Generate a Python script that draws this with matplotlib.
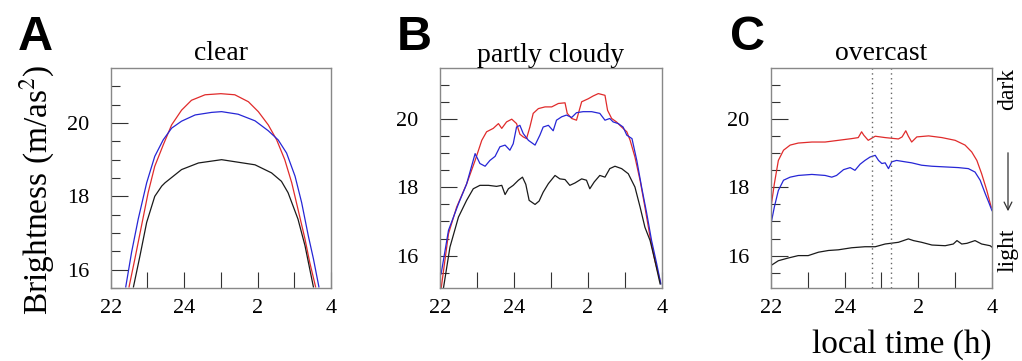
import matplotlib
matplotlib.use('Agg')
import matplotlib.pyplot as plt

# ---- data (hours after 22:00 written as 22..28, brightness in m/as^2) ----
# A: clear
a_red_t = [22.50, 22.66, 22.84, 23.02, 23.20, 23.43, 23.66, 23.93, 24.20, 24.57, 25.00, 25.38,
           25.75, 26.02, 26.29, 26.52, 26.74, 26.93, 27.10, 27.29, 27.42, 27.58]
a_red_v = [15.53, 16.30, 17.20, 18.10, 18.82, 19.40, 19.95, 20.35, 20.62, 20.77, 20.80, 20.77,
           20.58, 20.31, 19.95, 19.54, 19.00, 18.37, 17.65, 16.84, 16.20, 15.53]
a_blue_t = [22.41, 22.57, 22.75, 22.98, 23.20, 23.43, 23.66, 23.93, 24.30, 24.75, 25.02, 25.47,
            25.93, 26.29, 26.56, 26.79, 27.02, 27.20, 27.38, 27.52, 27.67]
a_blue_v = [15.53, 16.48, 17.38, 18.37, 19.09, 19.54, 19.86, 20.05, 20.22, 20.29, 20.31, 20.24,
            20.06, 19.79, 19.54, 19.18, 18.55, 17.83, 16.93, 16.30, 15.53]
a_black_t = [22.62, 22.80, 22.98, 23.20, 23.39, 23.48, 23.93, 24.39, 25.02, 25.93, 26.38, 26.65,
             26.83, 27.10, 27.29, 27.52]
a_black_v = [15.53, 16.39, 17.29, 18.00, 18.28, 18.37, 18.73, 18.91, 19.00, 18.86, 18.64, 18.41,
             18.10, 17.38, 16.66, 15.53]

# B: partly cloudy
b_red_t = [22.03, 22.23, 22.45, 22.72, 22.95, 23.13, 23.26, 23.44, 23.58, 23.67, 23.80, 23.94,
           24.07, 24.16, 24.25, 24.34, 24.43, 24.52, 24.66, 24.84, 25.02, 25.20, 25.38, 25.44,
           25.56, 25.69, 25.83, 26.01, 26.14, 26.28, 26.46, 26.53, 26.64, 26.77, 26.91, 27.05,
           27.14, 27.27, 27.41, 27.54, 27.68, 27.81, 27.95]
b_red_v = [15.02, 16.64, 17.42, 18.10, 18.79, 19.38, 19.63, 19.73, 19.87, 19.73, 19.92, 20.00,
           19.87, 19.56, 19.48, 19.43, 19.77, 20.17, 20.31, 20.36, 20.36, 20.46, 20.48, 20.17,
           20.02, 19.97, 20.51, 20.60, 20.68, 20.75, 20.70, 20.26, 20.02, 19.92, 19.77, 19.63,
           19.38, 18.89, 18.20, 17.42, 16.54, 15.85, 15.26]
b_blue_t = [22.03, 22.23, 22.50, 22.72, 22.95, 23.08, 23.22, 23.35, 23.49, 23.62, 23.76, 23.89,
            23.98, 24.07, 24.16, 24.25, 24.39, 24.57, 24.70, 24.79, 24.93, 25.06, 25.15, 25.29,
            25.42, 25.56, 25.69, 25.87, 26.10, 26.32, 26.46, 26.59, 26.68, 26.82, 26.95, 27.05,
            27.19, 27.32, 27.45, 27.59, 27.72, 27.86, 27.97]
b_blue_v = [15.46, 16.74, 17.52, 18.10, 18.99, 18.70, 18.62, 18.79, 18.91, 19.19, 19.24, 19.09,
            19.28, 19.77, 19.82, 19.58, 19.38, 19.24, 19.53, 19.77, 19.82, 19.66, 19.97, 20.07,
            20.12, 20.05, 20.19, 20.22, 20.22, 20.17, 19.97, 20.02, 19.92, 19.87, 19.77, 19.53,
            19.43, 18.79, 18.01, 17.23, 16.44, 15.75, 15.17]
b_black_t = [22.09, 22.27, 22.50, 22.72, 22.90, 23.08, 23.31, 23.53, 23.67, 23.76, 23.85, 23.98,
             24.12, 24.23, 24.32, 24.41, 24.57, 24.68, 24.79, 24.93, 25.11, 25.24, 25.38, 25.51,
             25.65, 25.83, 25.96, 26.05, 26.17, 26.32, 26.46, 26.59, 26.73, 26.91, 27.09, 27.27,
             27.41, 27.54, 27.68, 27.81, 27.95]
b_black_v = [15.02, 16.25, 17.13, 17.62, 17.96, 18.06, 18.06, 18.03, 18.06, 17.79, 17.96, 18.06,
             18.21, 18.30, 18.09, 17.62, 17.50, 17.60, 17.86, 18.11, 18.35, 18.25, 18.23, 18.06,
             18.13, 18.25, 18.21, 17.96, 18.16, 18.35, 18.30, 18.55, 18.62, 18.55, 18.40, 18.01,
             17.42, 16.83, 16.44, 15.85, 15.17]

# C: overcast
c_red_t = [22.00, 22.09, 22.20, 22.34, 22.52, 22.74, 23.11, 23.47, 23.83, 24.19, 24.37, 24.46,
           24.52, 24.64, 24.83, 25.10, 25.46, 25.56, 25.66, 25.73, 25.82, 25.96, 26.28, 26.64,
           27.00, 27.27, 27.45, 27.59, 27.72, 27.86, 27.98]
c_red_v = [17.42, 18.10, 18.79, 19.09, 19.24, 19.30, 19.33, 19.33, 19.38, 19.43, 19.46, 19.63,
           19.53, 19.38, 19.50, 19.46, 19.42, 19.48, 19.66, 19.50, 19.33, 19.48, 19.51, 19.46,
           19.38, 19.24, 19.04, 18.79, 18.40, 17.91, 17.42]
c_blue_t = [22.00, 22.09, 22.20, 22.34, 22.52, 22.74, 23.11, 23.47, 23.65, 23.78, 23.97, 24.15,
            24.28, 24.42, 24.55, 24.69, 24.83, 24.92, 25.01, 25.10, 25.19, 25.28, 25.41, 25.64,
            25.82, 26.09, 26.37, 26.73, 27.09, 27.36, 27.54, 27.68, 27.82, 27.91, 28.00]
c_blue_v = [16.93, 17.42, 17.91, 18.21, 18.30, 18.35, 18.38, 18.35, 18.30, 18.35, 18.52, 18.58,
            18.50, 18.68, 18.79, 18.89, 18.94, 18.79, 18.70, 18.72, 18.55, 18.75, 18.79, 18.75,
            18.72, 18.65, 18.62, 18.60, 18.58, 18.55, 18.45, 18.21, 17.81, 17.57, 17.32]
c_black_t = [22.00, 22.20, 22.47, 22.74, 23.01, 23.29, 23.56, 23.83, 24.19, 24.55, 24.83, 25.10,
             25.46, 25.73, 25.87, 26.09, 26.37, 26.73, 26.95, 27.05, 27.18, 27.32, 27.54, 27.72,
             27.95, 28.00]
c_black_v = [15.71, 15.85, 15.93, 16.00, 16.00, 16.10, 16.15, 16.17, 16.23, 16.26, 16.26, 16.34,
             16.39, 16.49, 16.44, 16.39, 16.31, 16.29, 16.34, 16.44, 16.34, 16.36, 16.44, 16.34,
             16.29, 16.25]
c_marks = [24.75, 25.25]

titles = ['clear', 'partly cloudy', 'overcast']
letters = ['A', 'B', 'C']
ylims = [(15.54, 21.5), (15.05, 21.5), (15.05, 21.5)]
xtick_pos = [22, 23, 24, 25, 26, 27, 28]
xtick_lab = ['22', '', '24', '', '2', '', '4']

RED = '#e02b2b'
BLUE = '#2626d6'
BLACK = '#1a1a1a'

plt.rcParams['font.family'] = ['Liberation Serif', 'DejaVu Serif']
plt.rcParams['mathtext.fontset'] = 'stix'

fig = plt.figure(figsize=(10.22, 3.61), dpi=100)
lefts = [0.1083, 0.4305, 0.7544]
widths = [0.2156, 0.2172, 0.2162]
data = [
    [(a_red_t, a_red_v, RED), (a_blue_t, a_blue_v, BLUE), (a_black_t, a_black_v, BLACK)],
    [(b_red_t, b_red_v, RED), (b_blue_t, b_blue_v, BLUE), (b_black_t, b_black_v, BLACK)],
    [(c_red_t, c_red_v, RED), (c_blue_t, c_blue_v, BLUE), (c_black_t, c_black_v, BLACK)],
]
letter_x = [18, 397, 730]
title_pad = [6, 4, 6]

for i in range(3):
    ax = fig.add_axes([lefts[i], 0.2022, widths[i], 0.6094])
    for t, v, col in data[i]:
        ax.plot(t, v, color=col, lw=0.9)
    if i == 2:
        for m in c_marks:
            ax.axvline(m, color='#666666', lw=1.0, ls=(0, (1, 2.5)))
    ax.set_xlim(22, 28)
    ax.set_ylim(*ylims[i])
    ax.set_xticks(xtick_pos)
    ax.set_xticklabels(xtick_lab)
    ax.set_yticks([16, 18, 20])
    ax.set_yticks([15.5, 16.5, 17, 17.5, 18.5, 19, 19.5, 20.5, 21], minor=True)
    ax.tick_params(axis='x', direction='in', length=11.5, width=0.8, color='#333333',
                   labelsize=16, pad=8)
    ax.tick_params(axis='y', which='major', direction='in', length=12, width=0.8,
                   color='#333333', labelsize=16, pad=15.5)
    ax.tick_params(axis='y', which='minor', direction='in', length=6.5, width=0.8,
                   color='#333333')
    for s in ax.spines.values():
        s.set_color('#888888')
        s.set_linewidth(1.0)
    ax.set_title(titles[i], fontsize=20, pad=title_pad[i])
    fig.text(letter_x[i] / 1022, 0.861, letters[i], fontsize=35, fontweight='bold',
             family='Liberation Sans', va='baseline', ha='left')

fig.text(37 / 1022, 0.474, 'Brightness (m/as$^2$)', fontsize=24, rotation=90,
         ha='center', va='center')
fig.text(992 / 1022, 0.045, 'local time (h)', fontsize=24, ha='right', va='center')
fig.text(1008 / 1022, (361 - 89) / 361, 'dark', fontsize=17, rotation=90,
         ha='center', va='center')
fig.text(1008 / 1022, (361 - 250) / 361, 'light', fontsize=17, rotation=90,
         ha='center', va='center')
fig.add_artist(matplotlib.patches.FancyArrowPatch(
    (1008 / 1022, (361 - 150) / 361), (1008 / 1022, (361 - 214) / 361),
    transform=fig.transFigure, arrowstyle='->', mutation_scale=14, lw=0.9, color='#333333'))

fig.savefig('out.png', dpi=100)
